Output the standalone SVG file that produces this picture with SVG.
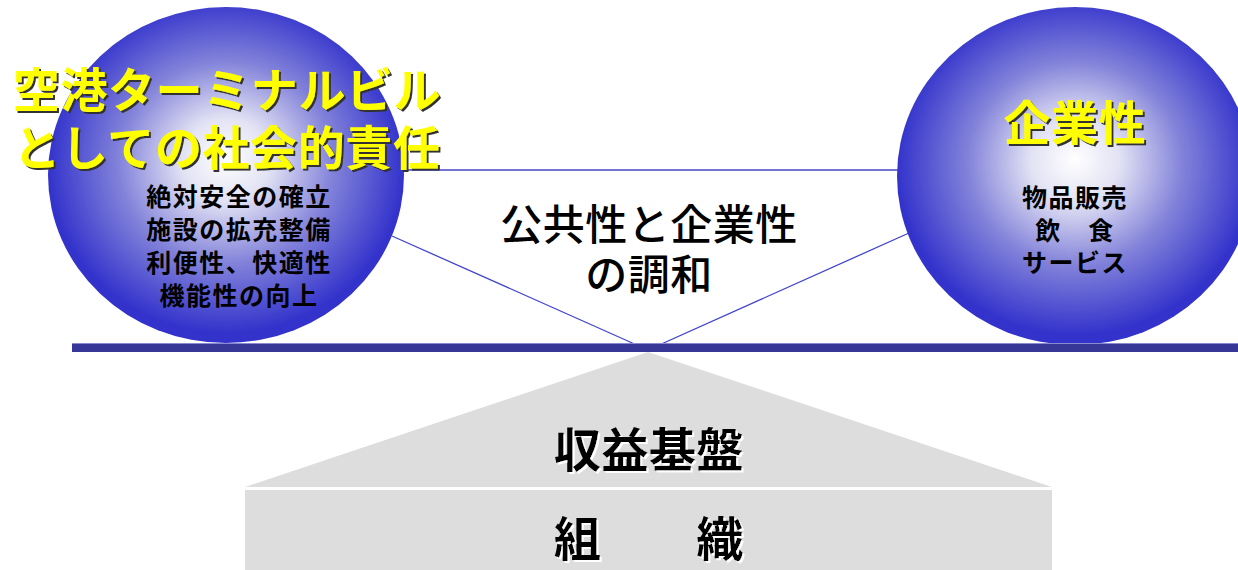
<svg xmlns="http://www.w3.org/2000/svg" width="1238" height="570" viewBox="0 0 1238 570">
<defs>
<radialGradient id="ball" cx="0.5" cy="0.47" r="0.5" fx="0.5" fy="0.45">
<stop offset="0" stop-color="#ffffff"/>
<stop offset="0.25" stop-color="#e2e2f4"/>
<stop offset="0.6" stop-color="#8383da"/>
<stop offset="1" stop-color="#3333cc"/>
</radialGradient>
<filter id="shd" x="-10%" y="-10%" width="120%" height="130%">
<feDropShadow dx="2" dy="2" stdDeviation="0.4" flood-color="#333333" flood-opacity="1"/>
</filter>
<filter id="wshd" x="-10%" y="-10%" width="120%" height="130%">
<feDropShadow dx="2" dy="2" stdDeviation="0" flood-color="#ffffff" flood-opacity="1"/>
</filter>
</defs>
<style>
text{font-family:"Noto Sans CJK JP","Noto Sans",sans-serif;text-anchor:middle}
.title{fill:#ffff00;font-size:47px;font-weight:700;letter-spacing:0.6px}
.body{fill:#000;font-size:25px;font-weight:700;letter-spacing:1.5px}
.center{fill:#000;font-size:42px;font-weight:500;letter-spacing:0.5px}
.base{fill:#000;font-size:47px;font-weight:700;letter-spacing:0.5px}
.thin{stroke:#4444cc;stroke-width:1.3;fill:none}
</style>
<rect width="1238" height="570" fill="#ffffff"/>
<g id="connectors">
<line class="thin" x1="395" y1="170" x2="905" y2="170"/>
<line class="thin" x1="392" y1="236" x2="648" y2="350"/>
<line class="thin" x1="648" y1="350" x2="909" y2="233"/>
</g>
<g id="left-ball">
<ellipse cx="226" cy="175" rx="178" ry="168" fill="url(#ball)"/>
<text class="title" x="227" y="107" filter="url(#shd)">空港ターミナルビル</text>
<text class="title" x="227" y="165" filter="url(#shd)">としての社会的責任</text>
<text class="body" x="239" y="206">絶対安全の確立</text>
<text class="body" x="239" y="239">施設の拡充整備</text>
<text class="body" x="239" y="272">利便性、快適性</text>
<text class="body" x="239" y="305">機能性の向上</text>
</g>
<g id="right-ball">
<ellipse cx="1075" cy="176" rx="178" ry="169" fill="url(#ball)"/>
<text class="title" x="1075" y="140" filter="url(#shd)">企業性</text>
<text class="body" x="1075" y="207">物品販売</text>
<text class="body" x="1075" y="240" xml:space="preserve">飲　食</text>
<text class="body" x="1075" y="272">サービス</text>
</g>
<g id="center-label">
<text class="center" x="649" y="240">公共性と企業性</text>
<text class="center" x="649" y="290">の調和</text>
</g>
<g id="bar">
<rect x="72" y="343" width="1166" height="9" fill="#373797"/>
<line x1="72" y1="343.5" x2="1238" y2="343.5" stroke="#8a8ad0" stroke-width="1"/>
</g>
<g id="revenue">
<polygon points="648,352 1052,487 245,487" fill="#dddddd"/>
<text class="base" x="649" y="467" filter="url(#wshd)">収益基盤</text>
</g>
<g id="organization">
<rect x="245" y="490" width="807" height="80" fill="#dddddd"/>
<text class="base" x="649" y="556" filter="url(#wshd)" xml:space="preserve">組　　織</text>
</g>
</svg>
